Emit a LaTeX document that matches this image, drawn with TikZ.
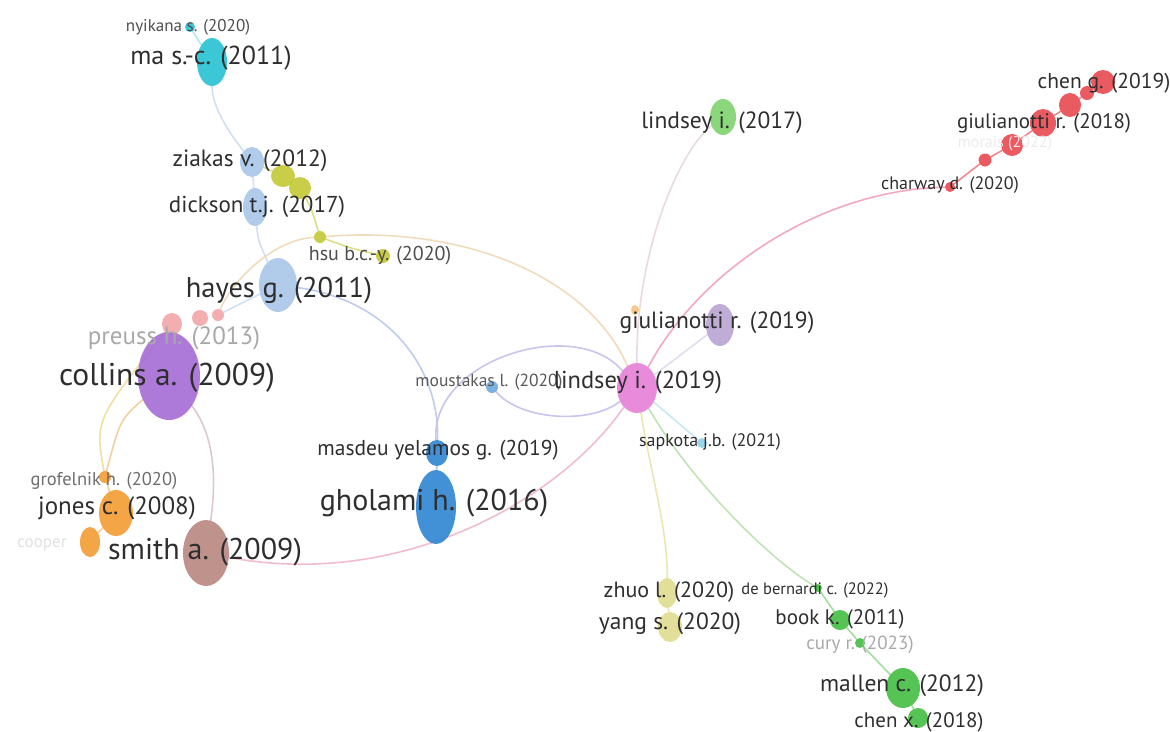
\documentclass[tikz,border=0pt]{standalone}
\usepackage{fontspec}
\setmainfont{PT Sans}
\usetikzlibrary{shapes.geometric}
\pgfdeclarelayer{bg}
\pgfsetlayers{bg,main}
\definecolor{labc}{HTML}{2E2E2E}
\definecolor{fadec}{HTML}{A8A8A8}
\definecolor{cCyan}{HTML}{27C1D3}
\definecolor{cLBlue}{HTML}{A8C6E8}
\definecolor{cYG}{HTML}{C3C934}
\definecolor{cPink}{HTML}{F2A6A6}
\definecolor{cPurple}{HTML}{A46CD6}
\definecolor{cOrange}{HTML}{F39C33}
\definecolor{cBrown}{HTML}{B88680}
\definecolor{cBlue}{HTML}{2E84D0}
\definecolor{cMag}{HTML}{E67ED6}
\definecolor{cLav}{HTML}{B8A4D4}
\definecolor{cLGreen}{HTML}{7ED46E}
\definecolor{cRed}{HTML}{E84850}
\definecolor{cPaleY}{HTML}{DEDC8E}
\definecolor{cGreen}{HTML}{42BE42}
\definecolor{cSky}{HTML}{8CD3E6}
\definecolor{cLOrange}{HTML}{F6C27A}
\definecolor{eTan}{HTML}{F2DABC}
\definecolor{eBlueL}{HTML}{BECCEE}
\definecolor{eLav}{HTML}{C8C4EE}
\definecolor{ePinkA}{HTML}{F2BCD0}
\definecolor{ePinkB}{HTML}{F4A8C0}
\definecolor{eGray}{HTML}{E8DAE4}
\definecolor{eYel}{HTML}{EAE8B2}
\definecolor{eGrn}{HTML}{BEE4B4}
\definecolor{eMauve}{HTML}{DCC8D4}
\definecolor{eOrg}{HTML}{F0CFA0}
\definecolor{eYel2}{HTML}{EEE0A0}
\tikzset{
  blob/.style={ellipse, inner sep=0pt, draw=none, fill opacity=0.9},
  lab/.style={font=\fontsize{#1pt}{#1pt}\selectfont, text=labc, inner sep=0pt},
  flab/.style={font=\fontsize{#1pt}{#1pt}\selectfont, text=fadec, inner sep=0pt},
  edge/.style={line width=1.6pt, draw=#1, line cap=round},
}
\begin{document}
\begin{tikzpicture}[x=1pt,y=-1pt]
\useasboundingbox (0,0) rectangle (1170,731);
% ---- nodes ----
\node[blob, fill=cCyan, minimum width=10pt, minimum height=10pt] (nyi) at (190,27) {};
\node[blob, fill=cCyan, minimum width=30pt, minimum height=48pt] (ma) at (212,62) {};
\node[blob, fill=cLBlue, minimum width=24pt, minimum height=30pt] (zia) at (252,162) {};
\node[blob, fill=cYG, minimum width=24pt, minimum height=22pt] (y1) at (283,176) {};
\node[blob, fill=cYG, minimum width=22pt, minimum height=22pt] (y2) at (300,188) {};
\node[blob, fill=cLBlue, minimum width=24pt, minimum height=38pt] (dick) at (255,207) {};
\node[blob, fill=cYG, minimum width=12pt, minimum height=12pt] (y3) at (320,237) {};
\node[blob, fill=cYG, minimum width=14pt, minimum height=14pt] (hsu) at (383,256) {};
\node[blob, fill=cLBlue, minimum width=38pt, minimum height=54pt] (hay) at (278,285) {};
\node[blob, fill=cPink, minimum width=20pt, minimum height=22pt] (pre1) at (172,324) {};
\node[blob, fill=cPink, minimum width=16pt, minimum height=16pt] (pre2) at (200,318) {};
\node[blob, fill=cPink, minimum width=12pt, minimum height=12pt] (pre3) at (218,315) {};
\node[blob, fill=cPurple, minimum width=62pt, minimum height=88pt] (col) at (169,376) {};
\node[blob, fill=cOrange, minimum width=12pt, minimum height=12pt] (grof) at (105,477) {};
\node[blob, fill=cOrange, minimum width=34pt, minimum height=46pt] (jon) at (116,513) {};
\node[blob, fill=cOrange, minimum width=20pt, minimum height=30pt] (coop) at (90,542) {};
\node[blob, fill=cBrown, minimum width=46pt, minimum height=66pt] (smi) at (206,553) {};
\node[blob, fill=cBlue, minimum width=22pt, minimum height=26pt] (mas) at (437,453) {};
\node[blob, fill=cBlue, minimum width=40pt, minimum height=74pt] (gho) at (436,507) {};
\node[blob, fill=cBlue!70, minimum width=12pt, minimum height=12pt] (mou) at (492,387) {};
\node[blob, fill=cMag, minimum width=40pt, minimum height=50pt] (lin19) at (637,388) {};
\node[blob, fill=cLav, minimum width=28pt, minimum height=42pt] (giu19) at (720,325) {};
\node[blob, fill=cSky, minimum width=10pt, minimum height=10pt] (sap) at (702,443) {};
\node[blob, fill=cLOrange, minimum width=8pt, minimum height=10pt] (odot) at (635,310) {};
\node[blob, fill=cLGreen, minimum width=26pt, minimum height=36pt] (lin17) at (723,117) {};
\node[blob, fill=cRed, minimum width=24pt, minimum height=24pt] (r1) at (1103,82) {};
\node[blob, fill=cRed, minimum width=14pt, minimum height=14pt] (r2) at (1087,93) {};
\node[blob, fill=cRed, minimum width=22pt, minimum height=24pt] (r3) at (1070,105) {};
\node[blob, fill=cRed, minimum width=26pt, minimum height=28pt] (r4) at (1043,123) {};
\node[blob, fill=cRed, minimum width=22pt, minimum height=22pt] (r5) at (1012,145) {};
\node[blob, fill=cRed, minimum width=13pt, minimum height=13pt] (r6) at (985,160) {};
\node[blob, fill=cRed, minimum width=10pt, minimum height=10pt] (r7) at (950,187) {};
\node[blob, fill=cPaleY, minimum width=20pt, minimum height=30pt] (zhu) at (667,593) {};
\node[blob, fill=cPaleY, minimum width=24pt, minimum height=30pt] (yan) at (670,627) {};
\node[blob, fill=cGreen, minimum width=8pt, minimum height=8pt] (deb) at (818,588) {};
\node[blob, fill=cGreen, minimum width=20pt, minimum height=20pt] (boo) at (840,620) {};
\node[blob, fill=cGreen, minimum width=10pt, minimum height=10pt] (cur) at (860,643) {};
\node[blob, fill=cGreen, minimum width=34pt, minimum height=40pt] (mal) at (903,688) {};
\node[blob, fill=cGreen, minimum width=20pt, minimum height=20pt] (chx) at (918,718) {};
% ---- connectors ----
\begin{pgfonlayer}{bg}
\draw[edge=cCyan!35] (nyi) -- (ma);
\draw[edge=cLBlue!55] (ma) .. controls (212,110) and (235,140) .. (zia);
\draw[edge=cLBlue!55] (zia) -- (dick);
\draw[edge=cLBlue!55] (dick) .. controls (258,240) .. (hay);
\draw[edge=cYG!60] (zia) -- (y1);
\draw[edge=cYG!60] (y1) -- (y2);
\draw[edge=cYG!60] (y2) .. controls (312,210) .. (y3);
\draw[edge=cYG!60] (y3) .. controls (350,248) .. (hsu);
\draw[edge=eTan] (y3) .. controls (470,225) and (590,280) .. (lin19);
\draw[edge=eTan] (y3) .. controls (270,240) and (230,285) .. (pre3);
\draw[edge=cLBlue!50] (hay) -- (pre3);
\draw[edge=eBlueL] (hay) .. controls (390,300) and (440,370) .. (mas);
\draw[edge=eLav] (mas) .. controls (430,360) and (575,315) .. (lin19);
\draw[edge=eLav] (mou) .. controls (520,420) and (590,425) .. (lin19);
\draw[edge=cBlue!40] (mas) -- (gho);
\draw[edge=ePinkA] (smi) .. controls (400,590) and (560,500) .. (lin19);
\draw[edge=ePinkB] (lin19) .. controls (700,270) and (820,190) .. (r7);
\draw[edge=cRed!65] (r7) -- (r6);
\draw[edge=cRed!65] (r6) -- (r5);
\draw[edge=cRed!65] (r5) -- (r4);
\draw[edge=cRed!65] (r4) -- (r3);
\draw[edge=cRed!65] (r3) -- (r2);
\draw[edge=cRed!65] (r2) -- (r1);
\draw[edge=eGray] (lin19) .. controls (636,250) and (680,150) .. (lin17);
\draw[edge=cLav!40] (lin19) -- (giu19);
\draw[edge=cSky!50] (lin19) -- (sap);
\draw[edge=eYel] (lin19) .. controls (650,470) and (668,530) .. (zhu);
\draw[edge=cPaleY!70] (zhu) -- (yan);
\draw[edge=eGrn] (lin19) .. controls (690,480) and (770,560) .. (deb);
\draw[edge=cGreen!50] (deb) -- (boo);
\draw[edge=cGreen!50] (boo) -- (cur);
\draw[edge=cGreen!50] (cur) -- (mal);
\draw[edge=cGreen!50] (mal) -- (chx);
\draw[edge=eMauve] (col) .. controls (218,440) and (215,490) .. (smi);
\draw[edge=eOrg] (col) .. controls (120,420) .. (grof);
\draw[edge=eYel2] (pre1) .. controls (95,420) .. (grof);
\draw[edge=cOrange!50] (grof) -- (jon);
\draw[edge=cOrange!50] (jon) -- (coop);
\draw[edge=cPink!60] (pre1) -- (col);
\end{pgfonlayer}
% ---- labels ----
\node[lab=17, text=labc!85] (t-nyi) at (188,27) {nyikana s. (2020)};
\node[lab=26] (t-ma) at (211,58) {ma s.-c. (2011)};
\node[lab=23.5] (t-zia) at (250,161) {ziakas v. (2012)};
\node[lab=23] (t-dick) at (257,207) {dickson t.j. (2017)};
\node[lab=20, text=labc!85] (t-hsu) at (380,256) {hsu b.c.-y. (2020)};
\node[lab=28.5] (t-hay) at (279,290) {hayes g. (2011)};
\node[flab=25] (t-pre) at (174,338) {preuss h. (2013)};
\node[lab=31.5] (t-col) at (167,378) {collins a. (2009)};
\node[lab=18.5, text=labc!70] (t-grof) at (104,481) {grofelnik h. (2020)};
\node[lab=25] (t-jon) at (117,508) {jones c. (2008)};
\node[flab=17, text=black!12] (t-coop) at (42,545) {cooper};
\node[lab=30] (t-smi) at (205,552) {smith a. (2009)};
\node[lab=21.5] (t-mas) at (438,450) {masdeu yelamos g. (2019)};
\node[lab=30] (t-gho) at (434,503) {gholami h. (2016)};
\node[lab=17.5, text=labc!80] (t-mou) at (489,382) {moustakas l. (2020)};
\node[lab=24.5] (t-lin19) at (638,382) {lindsey i. (2019)};
\node[lab=23.5] (t-giu19) at (717,323) {giulianotti r. (2019)};
\node[lab=18] (t-sap) at (710,442) {sapkota j.b. (2021)};
\node[lab=23.5] (t-lin17) at (722,123) {lindsey i. (2017)};
\node[lab=21.5] (t-chg) at (1104,83) {chen g. (2019)};
\node[lab=21] (t-giu18) at (1044,123) {giulianotti r. (2018)};
\node[flab=16, text=black!8] (t-mor) at (1005,144) {morais (2022)};
\node[lab=18] (t-cha) at (950,185) {charway d. (2020)};
\node[lab=22] (t-zhu) at (669,592) {zhuo l. (2020)};
\node[lab=23.5] (t-yan) at (670,624) {yang s. (2020)};
\node[lab=16.5] (t-deb) at (815,590) {de bernardi c. (2022)};
\node[lab=21] (t-boo) at (840,619) {book k. (2011)};
\node[flab=19] (t-cur) at (860,645) {cury r. (2023)};
\node[lab=23.5] (t-mal) at (902,686) {mallen c. (2012)};
\node[lab=21] (t-chx) at (919,722) {chen x. (2018)};
\end{tikzpicture}
\end{document}
